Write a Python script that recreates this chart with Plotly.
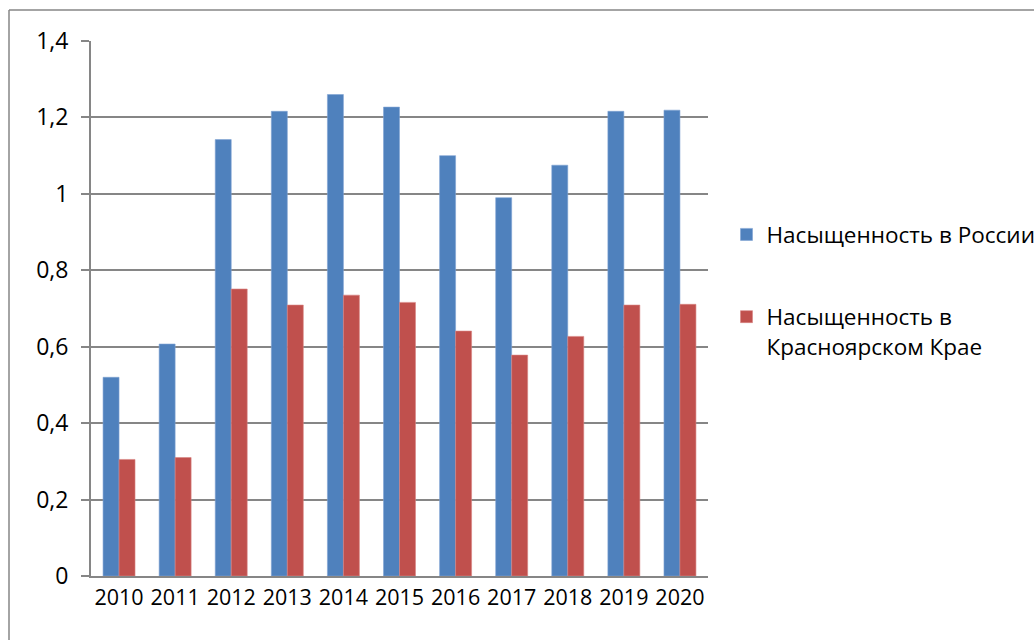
import plotly.graph_objects as go

years = ["2010", "2011", "2012", "2013", "2014", "2015", "2016", "2017", "2018", "2019", "2020"]
russia = [0.52, 0.607, 1.142, 1.216, 1.26, 1.227, 1.10, 0.99, 1.075, 1.216, 1.219]
krasnoyarsk = [0.305, 0.31, 0.751, 0.709, 0.735, 0.716, 0.641, 0.578, 0.627, 0.709, 0.711]
name_russia = "Насыщенность в России"
name_kras = "Насыщенность в<br>Красноярском Крае"

FONT = "Open Sans"
GRID = "#868686"

fig = go.Figure()
fig.add_trace(go.Bar(x=years, y=russia, name=name_russia, legendgroup="a",
                     marker=dict(color="#4F81BD", line=dict(color="#7FA3D3", width=0.6))))
fig.add_trace(go.Bar(x=years, y=krasnoyarsk, name=name_kras, legendgroup="b",
                     marker=dict(color="#C0504D", line=dict(color="#D98583", width=0.6))))

fig.update_layout(
    width=1034, height=640,
    margin=dict(l=91, r=326, t=41, b=64, pad=0, autoexpand=False),
    paper_bgcolor="white", plot_bgcolor="white",
    separators=", ",
    barmode="group", bargap=0.43, bargroupgap=0,
    font=dict(family=FONT, size=20, color="black"),
    showlegend=True,
    legend=dict(x=1.03, y=0.678, xanchor="left", yanchor="top",
                font=dict(family=FONT, size=22.5, color="black"),
                tracegroupgap=50, valign="top", traceorder="grouped",
                bgcolor="rgba(0,0,0,0)"),
    xaxis=dict(showline=True, linecolor=GRID, linewidth=2, ticks="",
               tickfont=dict(size=21.5), ticklabelstandoff=1, showgrid=False),
    yaxis=dict(range=[0, 1.4], dtick=0.2, showline=True, linecolor=GRID, linewidth=2,
               ticks="outside", ticklen=8, tickcolor=GRID, tickwidth=2,
               showgrid=True, gridcolor=GRID, gridwidth=2, zeroline=False,
               tickfont=dict(size=23), ticklabelstandoff=8),
    shapes=[dict(type="line", xref="paper", yref="paper",
                 x0=(9 - 91) / 617, x1=(1040 - 91) / 617,
                 y0=(640 - 64 - 10) / 535, y1=(640 - 64 - 10) / 535,
                 line=dict(color=GRID, width=1.5)),
            dict(type="line", xref="paper", yref="paper",
                 x0=(9 - 91) / 617, x1=(9 - 91) / 617,
                 y0=(640 - 64 - 10) / 535, y1=-70 / 535,
                 line=dict(color=GRID, width=1.5))],
)

fig.write_html("out.html")
